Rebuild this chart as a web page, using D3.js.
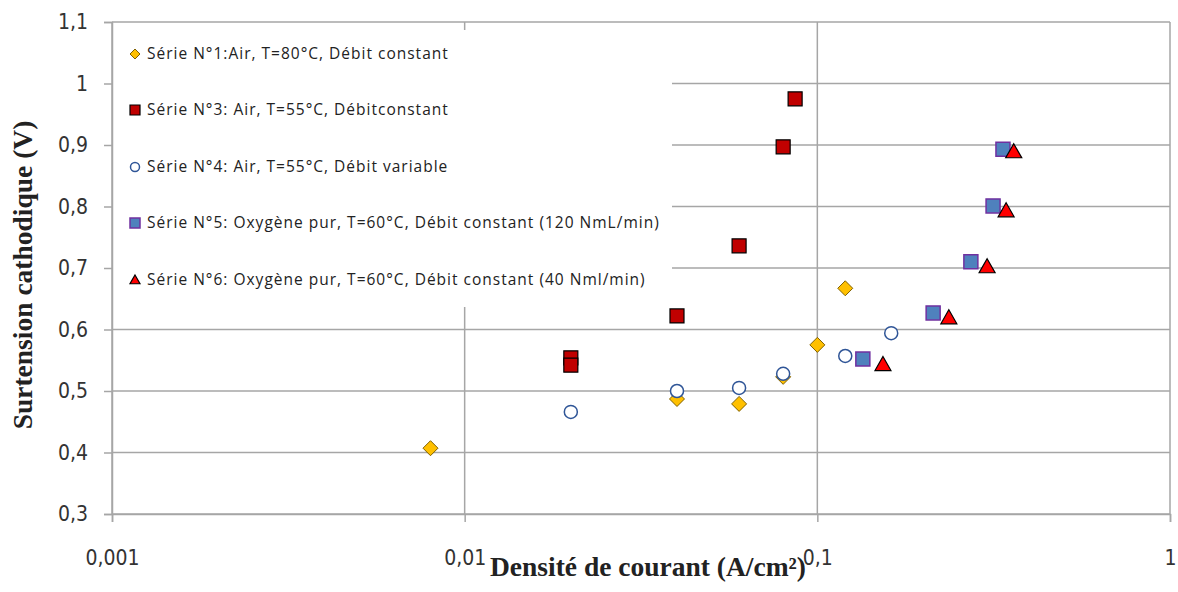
<!DOCTYPE html>
<html><head><meta charset="utf-8">
<script src="https://cdn.jsdelivr.net/npm/d3@7"></script>
<style>body{margin:0;background:#fff}svg{display:block}</style>
</head><body>
<svg id="c" width="1178" height="592"></svg>
<script>
const xTicks = [0.001, 0.01, 0.1, 1];
const xTickLabels = ["0,001", "0,01", "0,1", "1"];
const yTicks = [0.3, 0.4, 0.5, 0.6, 0.7, 0.8, 0.9, 1.0, 1.1];
const yTickLabels = ["0,3", "0,4", "0,5", "0,6", "0,7", "0,8", "0,9", "1", "1,1"];

const s1x = [0.008, 0.04, 0.06, 0.08, 0.1, 0.12];
const s1y = [0.407, 0.487, 0.479, 0.523, 0.575, 0.667];
const s3x = [0.02, 0.02, 0.04, 0.06, 0.08, 0.0865];
const s3y = [0.554, 0.542, 0.622, 0.736, 0.897, 0.975];
const s4x = [0.02, 0.04, 0.06, 0.08, 0.12, 0.162];
const s4y = [0.466, 0.500, 0.505, 0.528, 0.557, 0.594];
const s5x = [0.1346, 0.213, 0.2725, 0.315, 0.336];
const s5y = [0.552, 0.627, 0.710, 0.801, 0.893];
const s6x = [0.1535, 0.236, 0.303, 0.343, 0.3605];
const s6y = [0.543, 0.619, 0.702, 0.793, 0.889];

const seriesNames = [
  "Série N°1:Air, T=80°C, Débit constant",
  "Série N°3: Air, T=55°C, Débitconstant",
  "Série N°4: Air, T=55°C, Débit variable",
  "Série N°5: Oxygène pur, T=60°C, Débit constant (120 NmL/min)",
  "Série N°6: Oxygène pur, T=60°C, Débit constant (40 Nml/min)"
];
const xTitle = "Densité de courant (A/cm²)";
const yTitle = "Surtension cathodique (V)";

const series = [
  {name: seriesNames[0], xs: s1x, ys: s1y, shape: "diamond", fill: "#FFC000", stroke: "#7f6000", sw: 1},
  {name: seriesNames[1], xs: s3x, ys: s3y, shape: "square", fill: "#C00000", stroke: "#000", sw: 1.2},
  {name: seriesNames[2], xs: s4x, ys: s4y, shape: "circle", fill: "#fff", stroke: "#2F5597", sw: 1.5},
  {name: seriesNames[3], xs: s5x, ys: s5y, shape: "square", fill: "#4F81BD", stroke: "#7030A0", sw: 1.5},
  {name: seriesNames[4], xs: s6x, ys: s6y, shape: "triangle", fill: "#FF0000", stroke: "#000", sw: 1.2}
];

const L = 112, R = 1170, T = 22, B = 514;
const svg = d3.select("#c");
const x = d3.scaleLog().domain([0.001, 1]).range([L, R]);
const y = d3.scaleLinear().domain([0.3, 1.1]).range([B, T]);
const grid = "#a6a6a6";
const tickFont = "'DejaVu Sans Condensed', 'DejaVu Sans', sans-serif";

// gridlines
svg.append("g").selectAll("line").data(yTicks).join("line")
  .attr("x1", L).attr("x2", R).attr("y1", d => y(d)).attr("y2", d => y(d))
  .attr("stroke", grid).attr("stroke-width", 1.5);
svg.append("g").selectAll("line").data(xTicks).join("line")
  .attr("x1", d => x(d)).attr("x2", d => x(d)).attr("y1", T).attr("y2", B)
  .attr("stroke", grid).attr("stroke-width", 1.5);

// legend box (covers gridlines)
const legG = svg.append("g");
legG.append("rect").attr("x", L + 1).attr("y", 30).attr("width", 559).attr("height", 277).attr("fill", "#fff");

// axes
const yAxis = d3.axisLeft(y).tickValues(yTicks).tickFormat((d, i) => yTickLabels[i]).tickSize(8).tickPadding(16);
const gy = svg.append("g").attr("transform", `translate(${L},0)`).call(yAxis);
gy.select(".domain").attr("stroke", grid).attr("stroke-width", 1.5);
gy.selectAll(".tick line").attr("stroke", grid).attr("stroke-width", 1.5);
gy.selectAll("text").attr("font-family", tickFont).attr("font-size", 21).attr("fill", "#333");

const xAxis = d3.axisBottom(x).tickValues(xTicks).tickFormat((d, i) => xTickLabels[i]).tickSize(8).tickPadding(0);
const gx = svg.append("g").attr("transform", `translate(0,${B})`).call(xAxis);
gx.select(".domain").attr("stroke", grid).attr("stroke-width", 1.5);
gx.selectAll(".tick line").attr("stroke", grid).attr("stroke-width", 1.5);
gx.selectAll("text").attr("font-family", tickFont).attr("font-size", 21).attr("fill", "#333")
  .attr("dy", null).attr("y", 51);

// titles
svg.append("text").attr("x", 648).attr("y", 576).attr("text-anchor", "middle")
  .attr("font-family", "Liberation Serif").attr("font-weight", "bold").attr("font-size", 27.5).attr("fill", "#222").text(xTitle);
svg.append("text").attr("transform", "translate(32,275) rotate(-90)").attr("text-anchor", "middle")
  .attr("font-family", "Liberation Serif").attr("font-weight", "bold").attr("font-size", 27.5).attr("fill", "#222").text(yTitle);

function shapePath(shape, s) {
  const h = s / 2;
  if (shape === "diamond") return `M0,${-h}L${h},0L0,${h}L${-h},0Z`;
  if (shape === "square") return `M${-h},${-h}H${h}V${h}H${-h}Z`;
  if (shape === "triangle") return `M0,${-h}L${h},${h * 0.75}L${-h},${h * 0.75}Z`;
  return null;
}
function drawMarker(g, sr, cx, cy, size) {
  if (sr.shape === "circle") {
    g.append("circle").attr("cx", cx).attr("cy", cy).attr("r", size / 2 - 0.5)
      .attr("fill", sr.fill).attr("stroke", sr.stroke).attr("stroke-width", sr.sw);
  } else {
    g.append("path").attr("d", shapePath(sr.shape, size)).attr("transform", `translate(${cx},${cy})`)
      .attr("fill", sr.fill).attr("stroke", sr.stroke).attr("stroke-width", sr.sw);
  }
}

// legend entries
const legY = [54, 110, 167, 223, 280];
series.forEach((sr, i) => {
  drawMarker(legG, sr, 135, legY[i], 10);
  legG.append("text").attr("x", 147).attr("y", legY[i]).attr("dy", "0.35em")
    .attr("font-family", "Open Sans").attr("font-size", 15.5).attr("letter-spacing", 1.0)
    .attr("fill", "#222").text(sr.name);
});

// points
const pts = svg.append("g");
series.forEach(sr => {
  sr.xs.forEach((xv, j) => {
    const size = sr.shape === "diamond" ? 15 : (sr.shape === "triangle" ? 16 : 14);
    drawMarker(pts, sr, x(xv), y(sr.ys[j]), size);
  });
});
</script>
</body></html>
